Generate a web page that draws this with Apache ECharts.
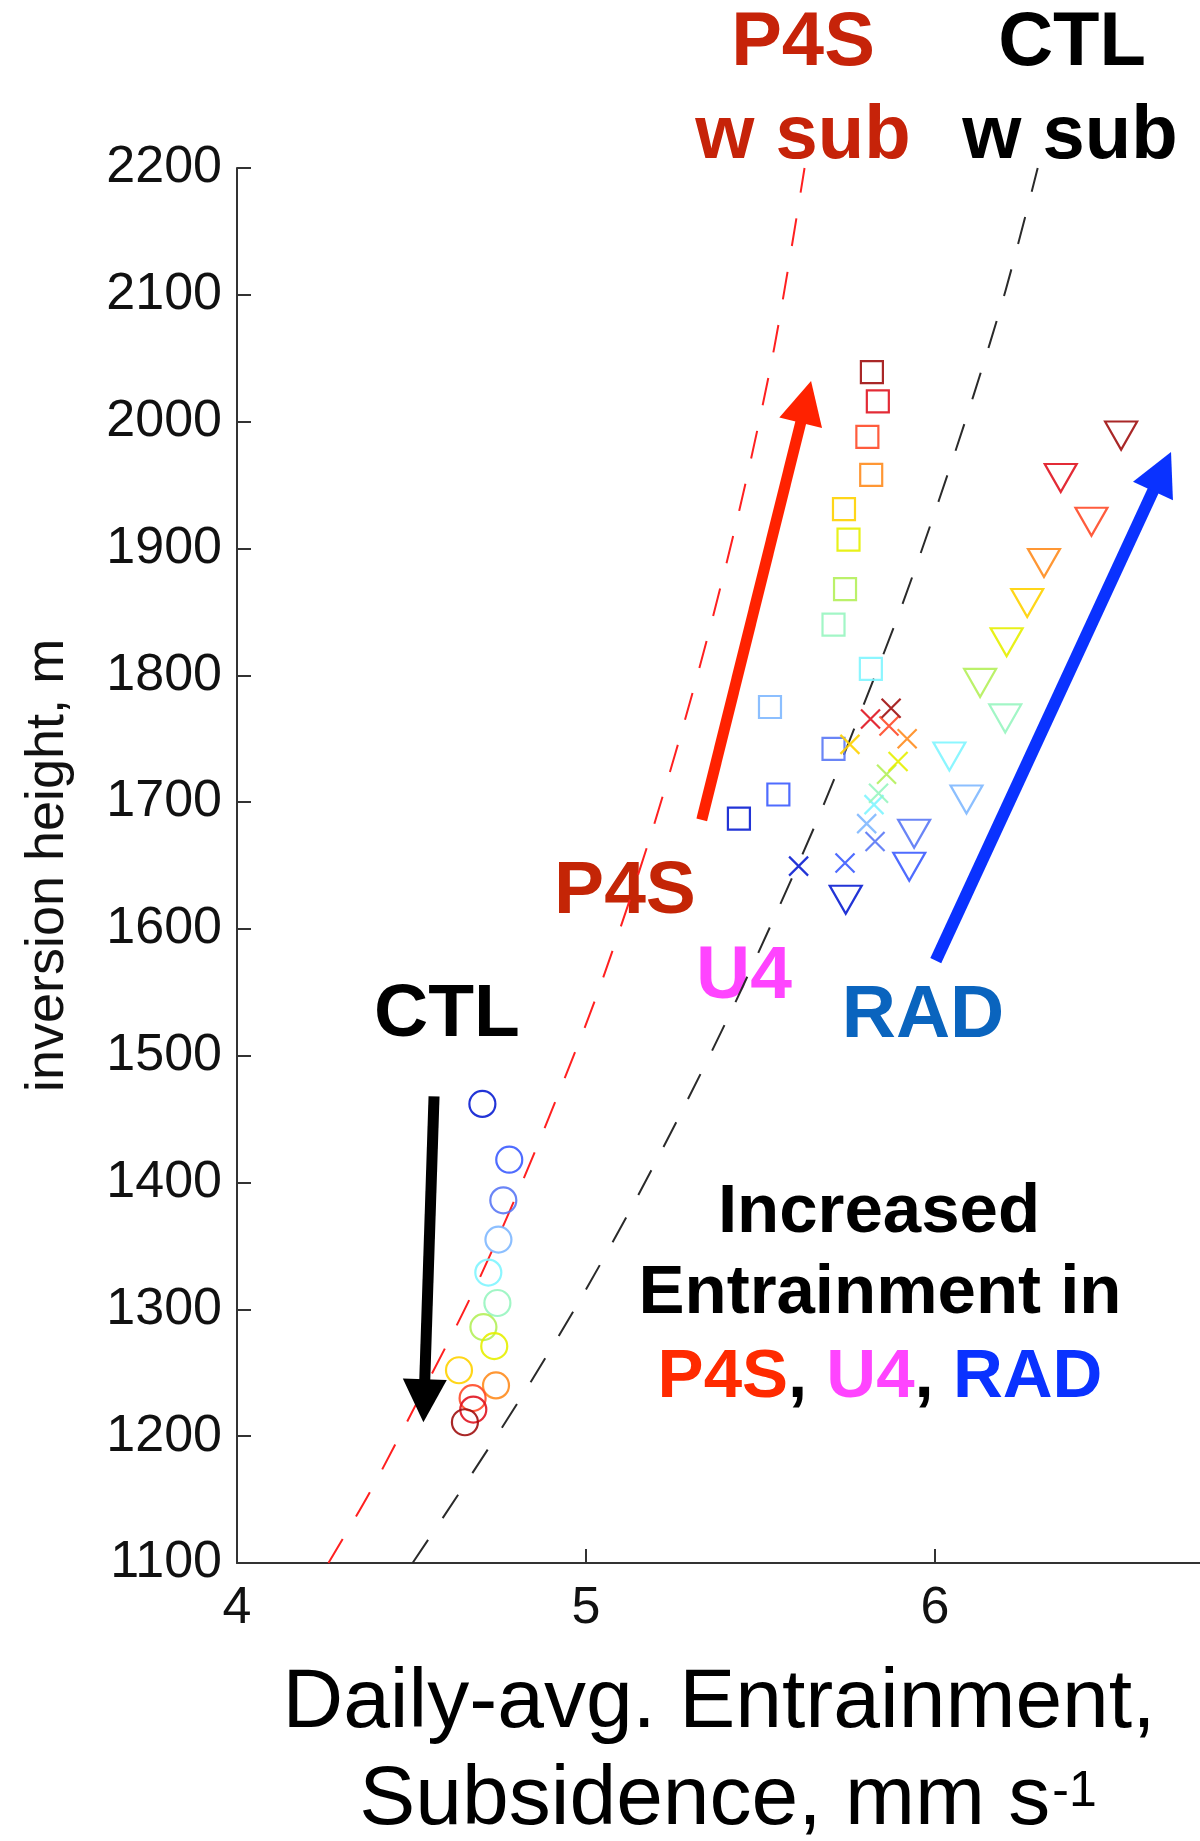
<!DOCTYPE html>
<html>
<head>
<meta charset="utf-8">
<script src="https://cdn.jsdelivr.net/npm/echarts@6/dist/echarts.min.js"></script>
<style>
html, body { margin: 0; padding: 0; background: #fff; }
#chart { width: 1200px; height: 1841px; }
</style>
</head>
<body>
<div id="chart"></div>
<script>
// tick labels
const xTicks = [4, 5, 6];
const yTicks = [1100, 1200, 1300, 1400, 1500, 1600, 1700, 1800, 1900, 2000, 2100, 2200];

// day colours, first day (dark blue) -> last day (dark red)
const dayColors = ['#0a1ed2', '#3c5cff', '#5a78f5', '#80b8ff', '#7ff5ff', '#98f5c0',
  '#b4f05a', '#e6f000', '#ffd200', '#ff8c1e', '#ff4a28', '#e01420', '#a01010'];

// CTL runs, circles
const ctlPoints = [[4.703, 1462], [4.780, 1418], [4.763, 1386], [4.749, 1355], [4.720, 1329],
  [4.746, 1305], [4.706, 1286], [4.737, 1271], [4.636, 1252], [4.742, 1240],
  [4.675, 1230], [4.677, 1221], [4.653, 1211]];
// P4S runs, squares
const p4sPoints = [[5.438, 1687], [5.551, 1706], [5.709, 1742], [5.527, 1775], [5.816, 1805],
  [5.709, 1840], [5.742, 1868], [5.752, 1907], [5.739, 1931], [5.817, 1958],
  [5.806, 1988], [5.836, 2016], [5.819, 2039]];
// U4 runs, crosses
const u4Points = [[5.609, 1649.5], [5.742, 1652], [5.828, 1669], [5.804, 1683], [5.825, 1698],
  [5.838, 1707], [5.861, 1722], [5.894, 1732], [5.756, 1745.5], [5.920, 1750],
  [5.868, 1760], [5.815, 1765.5], [5.874, 1774]];
// RAD runs, down triangles
const radPoints = [[5.744, 1623], [5.926, 1649], [5.940, 1675], [6.090, 1702], [6.041, 1736],
  [6.201, 1766], [6.129, 1794], [6.205, 1826], [6.264, 1857], [6.312, 1888.5],
  [6.448, 1921], [6.360, 1955.5], [6.533, 1989]];

// subsidence curves
const p4sSubCurve = [[4.262, 1100], [4.381, 1156], [4.524, 1231], [4.670, 1310], [4.801, 1390],
  [4.921, 1470], [5.038, 1553], [5.189, 1677], [5.322, 1803], [5.439, 1930],
  [5.539, 2058], [5.626, 2200]];
const ctlSubCurve = [[4.503, 1100], [4.634, 1154], [4.806, 1227], [4.971, 1302], [5.126, 1378],
  [5.274, 1456], [5.413, 1533.5], [5.546, 1613], [5.672, 1692], [5.790, 1773],
  [5.905, 1855], [6.011, 1938], [6.110, 2020.5], [6.203, 2104.4], [6.294, 2200]];

// arrows: [x tail, y tail, x tip, y tip]
const arrows = [[5.3315, 1686, 5.6447, 2032], [6.002, 1575, 6.676, 1976], [4.5645, 1468, 4.534, 1211]];
const arrowLook = [{ color: '#ff2200', width: 11 }, { color: '#0a32ff', width: 12 }, { color: '#000000', width: 11 }];

const FONT = '"Liberation Sans", Arial, Helvetica, sans-serif';

function coloured(points) {
  return points.map((p, i) => ({ value: p, itemStyle: { borderColor: dayColors[i] } }));
}

function markerSeries(points, symbol, size) {
  return {
    type: 'scatter',
    data: coloured(points),
    symbol: symbol,
    symbolSize: size,
    itemStyle: { color: 'rgba(0,0,0,0)', borderWidth: 2.2, opacity: 0.9 },
    emphasis: { disabled: true },
    z: 3
  };
}

function curveSeries(points, color) {
  return {
    type: 'line',
    data: points,
    showSymbol: false,
    smooth: 0.3,
    lineStyle: { color: color, width: 2, type: [28, 26] },
    emphasis: { disabled: true },
    z: 2
  };
}

const chart = echarts.init(document.getElementById('chart'), null, { renderer: 'canvas' });

chart.setOption({
  animation: false,
  backgroundColor: '#fff',
  grid: { left: 237, top: 168, right: 0, bottom: 278, containLabel: false },
  xAxis: {
    type: 'value', min: 4, max: 6.759, interval: 1,
    axisLine: { show: true, onZero: false, lineStyle: { color: '#333', width: 2 } },
    axisTick: { show: true, inside: true, length: 14, customValues: xTicks, lineStyle: { color: '#333', width: 2 } },
    axisLabel: { customValues: xTicks, formatter: v => String(v), fontSize: 52, fontFamily: FONT, color: '#111', margin: 20 },
    splitLine: { show: false }
  },
  yAxis: {
    type: 'value', min: 1100, max: 2200, interval: 100,
    name: 'inversion height, m', nameLocation: 'middle', nameGap: 162,
    nameTextStyle: { fontSize: 54, fontFamily: FONT, color: '#111' },
    axisLine: { show: true, onZero: false, lineStyle: { color: '#333', width: 2 } },
    axisTick: { show: true, inside: true, length: 14, customValues: yTicks, lineStyle: { color: '#333', width: 2 } },
    axisLabel: { customValues: yTicks, formatter: v => String(v), fontSize: 52, fontFamily: FONT, color: '#111', margin: 15 },
    splitLine: { show: false }
  },
  series: [
    curveSeries(p4sSubCurve, '#ff2020'),
    curveSeries(ctlSubCurve, '#2a2a2a'),
    markerSeries(ctlPoints, 'circle', 26),
    markerSeries(p4sPoints, 'rect', 22),
    markerSeries(u4Points, 'path://M0,0L20,20M20,0L0,20', 19),
    markerSeries(radPoints, 'path://M0,0L34,0L17,29Z', [32, 28]),
    {
      type: 'custom',
      data: arrows,
      encode: { x: [0, 2], y: [1, 3] },
      clip: false,
      z: 5,
      renderItem: function (params, api) {
        const a = api.coord([api.value(0), api.value(1)]);
        const b = api.coord([api.value(2), api.value(3)]);
        const look = arrowLook[params.dataIndex];
        const dx = b[0] - a[0], dy = b[1] - a[1];
        const len = Math.sqrt(dx * dx + dy * dy);
        const ux = dx / len, uy = dy / len;
        const headLen = 43, headHalf = 22;
        const bx = b[0] - ux * headLen, by = b[1] - uy * headLen;
        return {
          type: 'group',
          children: [
            {
              type: 'line',
              shape: { x1: a[0], y1: a[1], x2: bx + ux * 4, y2: by + uy * 4 },
              style: { stroke: look.color, lineWidth: look.width, lineCap: 'butt' }
            },
            {
              type: 'polygon',
              shape: { points: [[b[0], b[1]], [bx - uy * headHalf, by + ux * headHalf], [bx + uy * headHalf, by - ux * headHalf]] },
              style: { fill: look.color }
            }
          ]
        };
      }
    }
  ],
  graphic: [
    { type: 'text', x: 803, y: 43.7, style: { text: 'P4S', fontSize: 76, fontWeight: 'bold', fontFamily: FONT, fill: '#c62309', align: 'center', verticalAlign: 'middle' } },
    { type: 'text', x: 803, y: 136.7, style: { text: 'w sub', fontSize: 76, fontWeight: 'bold', fontFamily: FONT, fill: '#c62309', align: 'center', verticalAlign: 'middle' } },
    { type: 'text', x: 1072, y: 43.7, style: { text: 'CTL', fontSize: 76, fontWeight: 'bold', fontFamily: FONT, fill: '#000', align: 'center', verticalAlign: 'middle' } },
    { type: 'text', x: 1070, y: 136.7, style: { text: 'w sub', fontSize: 76, fontWeight: 'bold', fontFamily: FONT, fill: '#000', align: 'center', verticalAlign: 'middle' } },
    { type: 'text', x: 625, y: 892, style: { text: 'P4S', fontSize: 75, fontWeight: 'bold', fontFamily: FONT, fill: '#c42506', align: 'center', verticalAlign: 'middle' } },
    { type: 'text', x: 744, y: 977, style: { text: 'U4', fontSize: 75, fontWeight: 'bold', fontFamily: FONT, fill: '#ff44ff', align: 'center', verticalAlign: 'middle' } },
    { type: 'text', x: 447, y: 1015.7, style: { text: 'CTL', fontSize: 75, fontWeight: 'bold', fontFamily: FONT, fill: '#000', align: 'center', verticalAlign: 'middle' } },
    { type: 'text', x: 923, y: 1016.7, style: { text: 'RAD', fontSize: 75, fontWeight: 'bold', fontFamily: FONT, fill: '#0a64be', align: 'center', verticalAlign: 'middle' } },
    { type: 'text', x: 879, y: 1213, style: { text: 'Increased', fontSize: 69, fontWeight: 'bold', fontFamily: FONT, fill: '#000', align: 'center', verticalAlign: 'middle' } },
    { type: 'text', x: 880, y: 1294, style: { text: 'Entrainment in', fontSize: 69, fontWeight: 'bold', fontFamily: FONT, fill: '#000', align: 'center', verticalAlign: 'middle' } },
    {
      type: 'text', x: 880, y: 1378,
      style: {
        text: '{r|P4S}{k|, }{m|U4}{k|, }{b|RAD}', align: 'center', verticalAlign: 'middle',
        rich: {
          r: { fontSize: 69, fontWeight: 'bold', fontFamily: FONT, fill: '#ff2a00' },
          k: { fontSize: 69, fontWeight: 'bold', fontFamily: FONT, fill: '#000' },
          m: { fontSize: 69, fontWeight: 'bold', fontFamily: FONT, fill: '#ff44ff' },
          b: { fontSize: 69, fontWeight: 'bold', fontFamily: FONT, fill: '#0a32ff' }
        }
      }
    },
    { type: 'text', x: 719, y: 1704, style: { text: 'Daily-avg. Entrainment,', fontSize: 84, fontFamily: FONT, fill: '#000', align: 'center', verticalAlign: 'middle' } },
    {
      type: 'text', x: 728, y: 1801,
      style: {
        text: '{n|Subsidence, mm s}{s|-1}', align: 'center', verticalAlign: 'middle',
        rich: {
          n: { fontSize: 84, lineHeight: 84, fontFamily: FONT, fill: '#000' },
          s: { fontSize: 50, fontFamily: FONT, fill: '#000', verticalAlign: 'top', padding: [8, 0, 0, 2] }
        }
      }
    }
  ]
});
</script>
</body>
</html>
